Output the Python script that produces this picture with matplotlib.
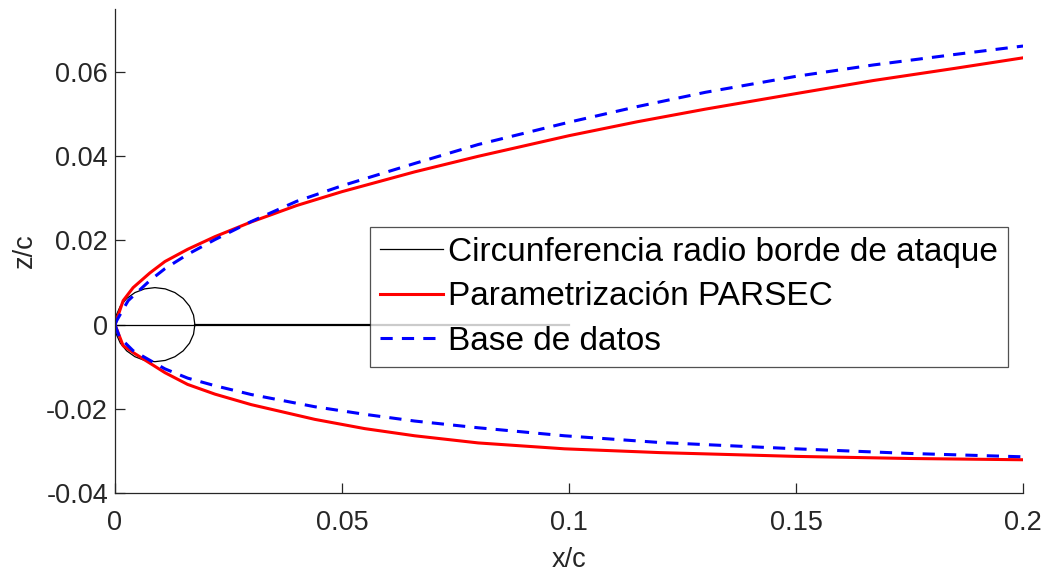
import numpy as np
import matplotlib
matplotlib.use('Agg')
import matplotlib.pyplot as plt

plt.rcParams['font.family'] = ['Liberation Sans', 'DejaVu Sans']

# Parametrizacion PARSEC (extradós / intradós)
x_parsec_sup = [0.0, 0.0018, 0.004, 0.0077, 0.011, 0.016, 0.022, 0.03, 0.04, 0.05, 0.066, 0.08,
                0.1, 0.115, 0.13, 0.15, 0.167, 0.185, 0.2]
z_parsec_sup = [0.0, 0.0057, 0.0088, 0.0123, 0.0150, 0.0179, 0.0209, 0.0244, 0.0283, 0.0316, 0.0363, 0.0400,
                0.0449, 0.0482, 0.0512, 0.0549, 0.0580, 0.0609, 0.0634]
x_parsec_inf = [0.0, 0.0018, 0.0044, 0.011, 0.016, 0.022, 0.03, 0.044, 0.055, 0.066, 0.08, 0.099,
                0.12, 0.15, 0.175, 0.2]
z_parsec_inf = [0.0, -0.0050, -0.0069, -0.0114, -0.0142, -0.0165, -0.0190, -0.0225, -0.0247, -0.0264, -0.0281, -0.0295,
                -0.0304, -0.0313, -0.0318, -0.0321]

# Base de datos
x_base_sup = [0.0, 0.0004, 0.0029, 0.0077, 0.011, 0.016, 0.022, 0.03, 0.04, 0.05, 0.066, 0.08,
              0.1, 0.115, 0.13, 0.15, 0.167, 0.185, 0.2]
z_base_sup = [0.0, 0.0010, 0.0057, 0.0105, 0.0133, 0.0167, 0.0202, 0.0245, 0.0293, 0.0330, 0.0383, 0.0428,
              0.0481, 0.0518, 0.0552, 0.0590, 0.0617, 0.0642, 0.0662]
x_base_inf = [0.0, 0.0010, 0.004, 0.011, 0.016, 0.022, 0.03, 0.044, 0.055, 0.066, 0.08, 0.099,
              0.12, 0.15, 0.175, 0.2]
z_base_inf = [0.0, -0.0030, -0.0062, -0.0105, -0.0127, -0.0145, -0.0166, -0.0195, -0.0213, -0.0229, -0.0245, -0.0264,
              -0.0280, -0.0295, -0.0306, -0.0314]

# circunferencia del radio de borde de ataque
r_le = 0.0088
n_lados = 24
x_cuerda_fin = 0.1

fig = plt.figure(figsize=(10.48, 5.73), dpi=100)
ax = fig.add_axes([0.1097, 0.1396, 0.8665, 0.8447])

th = np.linspace(0, 2 * np.pi, n_lados + 1)
xc = r_le + r_le * np.cos(th + np.pi)
zc = r_le * np.sin(th + np.pi)
ax.plot(xc, zc, color='black', lw=0.9, label='Circunferencia radio borde de ataque')
ax.plot([0, 2 * r_le], [0, 0], color='black', lw=0.9)
ax.plot([2 * r_le, x_cuerda_fin], [0, 0], color='black', lw=1.6)

ax.plot(x_parsec_sup, z_parsec_sup, color='red', lw=2.2, label='Parametrización PARSEC')
ax.plot(x_parsec_inf, z_parsec_inf, color='red', lw=2.2)
ax.plot(x_base_sup, z_base_sup, color='blue', lw=2.2, ls=(0, (4, 3)), label='Base de datos')
ax.plot(x_base_inf, z_base_inf, color='blue', lw=2.2, ls=(0, (4, 3)))

ax.set_xlim(0, 0.2)
ax.set_ylim(-0.04, 0.075)
ax.set_xticks([0, 0.05, 0.1, 0.15, 0.2])
ax.set_xticklabels(['0', '0.05', '0.1', '0.15', '0.2'])
ax.set_yticks([-0.04, -0.02, 0, 0.02, 0.04, 0.06])
ax.set_yticklabels(['-0.04', '-0.02', '0', '0.02', '0.04', '0.06'])

gris = '#262626'
for lado in ['top', 'right']:
    ax.spines[lado].set_visible(False)
for lado in ['left', 'bottom']:
    ax.spines[lado].set_color(gris)
    ax.spines[lado].set_linewidth(0.9)
ax.tick_params(direction='in', length=7, width=0.9, colors=gris, labelsize=19.5)
ax.tick_params(axis='x', pad=12)
ax.tick_params(axis='y', pad=5)

ax.set_xlabel('x/c', fontsize=19.5, color=gris, labelpad=8)
ax.set_ylabel('z/c', fontsize=19.5, color=gris, labelpad=6)

leg = ax.legend(loc='upper left', bbox_to_anchor=(0.281, 0.5496), borderaxespad=0,
                fontsize=24, frameon=True, fancybox=False, handlelength=1.9,
                handletextpad=0.15, borderpad=0.3, labelspacing=0.4)
leg.get_frame().set_edgecolor(gris)
leg.get_frame().set_linewidth(0.9)

fig.savefig('out.png', dpi=100)
